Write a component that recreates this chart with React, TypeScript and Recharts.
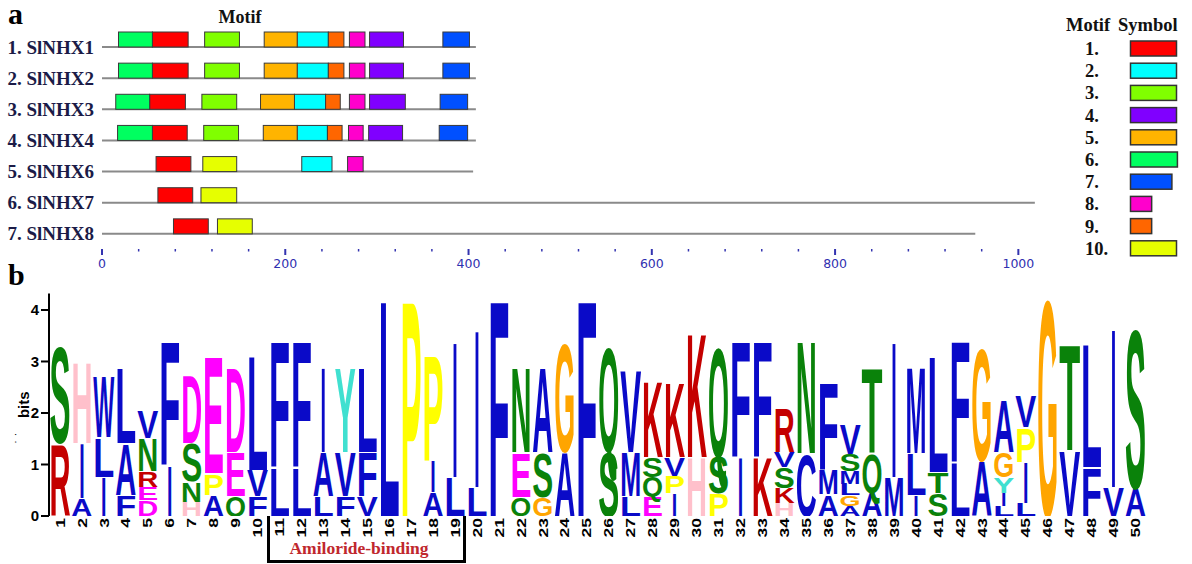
import React from "react";
import { BarChart, Bar, XAxis, YAxis } from "recharts";

// panel a: motif locations
const genes = ["1. SlNHX1", "2. SlNHX2", "3. SlNHX3", "4. SlNHX4", "5. SlNHX6", "6. SlNHX7", "7. SlNHX8"];
const geneLengths = [408, 408, 408, 408, 405, 1018, 953];

const motifNames = ["1.", "2.", "3.", "4.", "5.", "6.", "7.", "8.", "9.", "10."];
const motifColors = ["#ff0000", "#00ffff", "#80ff00", "#8000ff", "#ffb400", "#00ff60", "#0050ff", "#ff00cc", "#ff6600", "#e6ff00"];
const motifWidths = [50, 50, 50, 50, 50, 51, 45, 23, 23, 50];

const motif1 = [[55, 94], [55, 94], [52, 91], [55, 93], [59, 97], [61, 99], [78, 116]];
const motif2 = [[213, 247], [213, 247], [210, 244], [213, 246], [218, 251], null, null];
const motif3 = [[112, 150], [112, 150], [109, 147], [111, 149], null, null, null];
const motif4 = [[292, 329], [292, 329], [292, 331], [291, 328], null, null, null];
const motif5 = [[177, 213], [177, 213], [173, 210], [176, 213], null, null, null];
const motif6 = [[18, 55], [18, 55], [15, 52], [17, 55], null, null, null];
const motif7 = [[372, 401], [372, 401], [369, 399], [368, 399], null, null, null];
const motif8 = [[270, 287], [270, 287], [270, 287], [269, 285], [268, 285], null, null];
const motif9 = [[247, 264], [247, 264], [244, 260], [246, 262], null, null, null];
const motif10 = [null, null, null, null, [110, 147], [108, 147], [126, 164]];
const motifSites = [motif1, motif2, motif3, motif4, motif5, motif6, motif7, motif8, motif9, motif10];

const lengthTicks = [0, 40, 80, 120, 160, 200, 240, 280, 320, 360, 400, 440, 480, 520, 560, 600, 640, 680, 720, 760, 800, 840, 880, 920, 960, 1000];

// panel b: sequence logo, letters bottom -> top
const logoLetters = [
  "RS", "AIH", "ILW", "FAL", "DERNV", "IF", "HNSD", "APE", "QED", "FVL",
  "LF", "LF", "LAI", "FVY", "VFL", "L", "P", "AIP", "LI", "LI",
  "F", "QEN", "GSA", "AG", "F", "SQ", "LMV", "EQSK", "IPVK", "HK",
  "PSQ", "IF", "KF", "HKSVR", "CN", "AMF", "AGLMSV", "AQT", "MI", "ILM",
  "STL", "LF", "AG", "LIYGA", "LIPV", "G", "VT", "FL", "VI", "AS",
];
const logoHeights = [
  [1.41, 1.91], [0.34, 1.07, 1.59], [0.76, 0.78, 1.2], [0.41, 1.0, 1.49], [0.31, 0.26, 0.3, 0.65, 0.54],
  [0.99, 2.44], [0.28, 0.39, 0.74, 1.33], [0.41, 0.42, 2.33], [0.38, 0.87, 1.68], [0.38, 0.51, 2.27],
  [0.96, 2.49], [0.96, 2.49], [0.38, 0.87, 1.68], [0.38, 0.87, 1.68], [0.38, 0.87, 1.68],
  [4.3], [4.29], [0.47, 0.62, 2.1], [0.76, 2.69], [0.57, 3.13],
  [4.3], [0.37, 0.88, 1.68], [0.37, 0.88, 1.68], [1.25, 2.13], [4.3],
  [1.25, 2.07], [0.38, 0.87, 1.62], [0.38, 0.38, 0.39, 1.5], [0.44, 0.34, 0.37, 1.47], [1.15, 2.46],
  [0.44, 0.71, 2.17], [1.15, 2.3], [1.15, 2.3], [0.25, 0.3, 0.4, 0.3, 0.87], [1.22, 2.23],
  [0.42, 0.5, 1.72], [0.2, 0.2, 0.22, 0.26, 0.32, 0.6], [0.45, 0.77, 1.68], [0.76, 2.69], [0.4, 0.82, 1.71],
  [0.44, 0.42, 2.3], [1.05, 2.4], [1.09, 2.23], [0.2, 0.25, 0.3, 0.5, 1.04], [0.25, 0.8, 0.68, 0.62],
  [4.29], [1.28, 2.08], [0.96, 2.46], [0.57, 3.14], [0.54, 3.16],
];
const bitTicks = [0, 1, 2, 3, 4];
const bindingRange = [11, 19];

const letterColors: Record<string, string> = {
  A: "#0a0ac8", I: "#0a0ac8", L: "#0a0ac8", F: "#0a0ac8", V: "#0a0ac8", W: "#0a0ac8", M: "#0a0ac8", C: "#0a0ac8",
  S: "#0a820a", N: "#0a820a", Q: "#0a820a", T: "#0a820a",
  D: "#ff00ff", E: "#ff00ff",
  R: "#c40000", K: "#c40000",
  G: "#ffa500", P: "#ffff00", H: "#ffc0cb", Y: "#40e0d0",
};

const SERIF = "'Liberation Serif', 'Times New Roman', serif";
const SANS = "'Liberation Sans', Arial, sans-serif";
const CAP = 0.716;

const motifRows = genes.map((gene, g) => {
  const row: any = { gene, line: [0, geneLengths[g]] };
  motifSites.forEach((sites, m) => {
    row[`m${m}`] = sites[g];
  });
  return row;
});

const logoRows = logoLetters.map((letters, i) => {
  const row: any = { pos: String(i + 1) };
  letters.split("").forEach((c, k) => {
    row[`c${k}`] = c;
    row[`h${k}`] = logoHeights[i][k];
  });
  return row;
});
const stackLevels = [0, 1, 2, 3, 4, 5];

const GeneTick = (props: any) => {
  const { x, y, payload } = props;
  return (
    <text x={x} y={y + 7.5} textAnchor="end" dominantBaseline="central" fontFamily={SERIF} fontWeight={700} fontSize={19} fill="#1b1b47">
      {payload.value}
    </text>
  );
};

const LengthTick = (props: any) => {
  const { x, y, payload } = props;
  const major = payload.value % 200 === 0;
  if (!major) {
    return <line x1={x} x2={x} y1={y + 7} y2={y + 9.5} stroke="#3434b0" strokeWidth={1.5} />;
  }
  return (
    <g>
      <line x1={x} x2={x} y1={y + 7} y2={y + 13} stroke="#3434b0" strokeWidth={2} />
      <text x={x} y={y + 26} textAnchor="middle" fontFamily="'DejaVu Sans', sans-serif" fontSize={12.5} fill="#3030b0">
        {payload.value}
      </text>
    </g>
  );
};

const GeneLine = (props: any) => {
  const { x, y, width, height } = props;
  if (!(width > 0)) return <g />;
  return <line x1={x} x2={x + width} y1={y + height} y2={y + height} stroke="#8a8a8a" strokeWidth={2} />;
};

const motifBox = (m: number) => (props: any) => {
  const { x, y, width, height, payload } = props;
  if (!payload || !payload[`m${m}`] || !(width > 0)) return <g />;
  return <rect x={x} y={y} width={width} height={height} fill={motifColors[m]} stroke="#3a3a3a" strokeWidth={1} />;
};

const letterShape = (k: number) => (props: any) => {
  const { x, y, width, height, payload } = props;
  const letter = payload ? payload[`c${k}`] : null;
  if (!letter || !(height > 0)) return <g />;
  const narrow = letter === "I";
  const w = narrow ? width * 0.26 : width;
  const lx = narrow ? x + (width - w) / 2 : x;
  return (
    <text
      x={lx}
      y={y + height}
      fontSize={height / CAP}
      fontFamily={SANS}
      fontWeight={700}
      fill={letterColors[letter]}
      textLength={w}
      lengthAdjust="spacingAndGlyphs"
    >
      {letter}
    </text>
  );
};

const PosTick = (props: any) => {
  const { x, y, payload } = props;
  return (
    <text
      transform={`translate(${x},${y + 2}) rotate(-90) scale(1.35,1)`}
      textAnchor="end"
      dominantBaseline="central"
      fontFamily={SANS}
      fontWeight={700}
      fontSize={13}
      fill="#000"
    >
      {payload.value}
    </text>
  );
};

const BitsLabel = (props: any) => {
  const { viewBox } = props;
  const cx = viewBox.x + 14;
  const cy = viewBox.y + viewBox.height / 2;
  return (
    <g>
      <text transform={`translate(${cx},${cy}) rotate(-90)`} textAnchor="middle" dominantBaseline="central" fontFamily={SANS} fontWeight={700} fontSize={15} fill="#000">
        bits
      </text>
      <text transform={`translate(${cx - 3},${cy + 33}) rotate(-90)`} textAnchor="middle" dominantBaseline="central" fontFamily={SANS} fontSize={12} fill="#000">
        {"\u02D9 \u02D9"}
      </text>
    </g>
  );
};

// logo layout
const LOGO_TOP = 280;
const LOGO_LEFT = 9;
const LOGO_AXIS_W = 40;
const LOGO_W = 1160;
const LOGO_RIGHT = 13.5;
const logoBand = (LOGO_W - LOGO_LEFT - LOGO_AXIS_W - LOGO_RIGHT) / logoLetters.length;
const logoPlotLeft = LOGO_LEFT + LOGO_AXIS_W;

export default function App() {
  return (
    <div style={{ position: "absolute", left: 0, top: 0, width: 1192, height: 564, background: "#fff", overflow: "hidden" }}>
      <div style={{ position: "absolute", left: 0, top: 0 }}>
        <BarChart layout="vertical" width={1058} height={272} data={motifRows} margin={{ top: 24, right: 3, bottom: 0, left: 2 }}>
          <XAxis
            xAxisId="len"
            type="number"
            domain={[0, 1040]}
            ticks={lengthTicks}
            interval={0}
            allowDataOverflow
            axisLine={false}
            tickLine={false}
            tickSize={0}
            tickMargin={0}
            height={30}
            tick={<LengthTick />}
          />
          <YAxis yAxisId="gene" type="category" dataKey="gene" width={100} axisLine={false} tickLine={false} interval={0} tick={<GeneTick />} />
          {motifSites.map((_, m) => (
            <XAxis key={`x${m}`} xAxisId={`x${m}`} type="number" domain={[0, 1040]} allowDataOverflow hide />
          ))}
          {motifSites.map((_, m) => (
            <YAxis key={`y${m}`} yAxisId={`y${m}`} type="category" dataKey="gene" hide />
          ))}
          <Bar xAxisId="len" yAxisId="gene" dataKey="line" barSize={15} shape={GeneLine} isAnimationActive={false} />
          {motifSites.map((_, m) => (
            <Bar
              key={`m${m}`}
              xAxisId={`x${m}`}
              yAxisId={`y${m}`}
              dataKey={`m${m}`}
              barSize={15}
              fill={motifColors[m]}
              shape={motifBox(m)}
              isAnimationActive={false}
            />
          ))}
        </BarChart>
      </div>

      <div style={{ position: "absolute", left: 0, top: LOGO_TOP }}>
        <BarChart
          width={LOGO_W}
          height={284}
          data={logoRows}
          margin={{ top: 13.5, right: LOGO_RIGHT, bottom: 0, left: LOGO_LEFT }}
          barCategoryGap="2%"
        >
          <XAxis dataKey="pos" interval={0} axisLine={false} tickLine={false} tickSize={0} tickMargin={0} height={48} tick={<PosTick />} />
          <YAxis
            type="number"
            domain={[0, 4.32]}
            allowDataOverflow
            ticks={bitTicks}
            width={LOGO_AXIS_W}
            axisLine={{ stroke: "#000", strokeWidth: 2 }}
            tickLine={{ stroke: "#000", strokeWidth: 2 }}
            tickSize={8}
            tickMargin={2}
            tick={{ fill: "#000", fontSize: 15, fontWeight: 700, fontFamily: SANS }}
            label={<BitsLabel />}
          />
          {stackLevels.map((k) => (
            <Bar key={`h${k}`} dataKey={`h${k}`} stackId="logo" shape={letterShape(k)} isAnimationActive={false} />
          ))}
        </BarChart>
      </div>

      <div
        style={{
          position: "absolute",
          left: logoPlotLeft + (bindingRange[0] - 1) * logoBand - 2,
          width: (bindingRange[1] - bindingRange[0] + 1) * logoBand + 2,
          top: 516,
          height: 47,
          border: "3px solid #000",
          borderTop: "none",
          boxSizing: "border-box",
        }}
      />

      <svg width={1192} height={564} style={{ position: "absolute", left: 0, top: 0, pointerEvents: "none" }}>
        <text x={8} y={24} fontFamily={SERIF} fontWeight={700} fontSize={30} fill="#000">a</text>
        <text x={8} y={285} fontFamily={SERIF} fontWeight={700} fontSize={30} fill="#000">b</text>
        <text x={240} y={23} textAnchor="middle" fontFamily={SERIF} fontWeight={700} fontSize={18} fill="#111">Motif</text>
        <text x={359} y={554} textAnchor="middle" fontFamily={SERIF} fontWeight={700} fontSize={17.5} fill="#c0272d">Amiloride-binding</text>

        <text x={1066} y={31} fontFamily={SERIF} fontWeight={700} fontSize={18.5} fill="#111">Motif</text>
        <text x={1118} y={31} fontFamily={SERIF} fontWeight={700} fontSize={18.5} fill="#111">Symbol</text>
        {motifNames.map((name, m) => (
          <g key={name}>
            <text x={1085} y={55 + m * 22.2} fontFamily={SERIF} fontWeight={700} fontSize={18.5} fill="#111">{name}</text>
            <rect x={1130.5} y={41 + m * 22.2} width={motifWidths[m] * 0.92} height={15} fill={motifColors[m]} stroke="#333" strokeWidth={1.5} />
          </g>
        ))}
      </svg>
    </div>
  );
}
